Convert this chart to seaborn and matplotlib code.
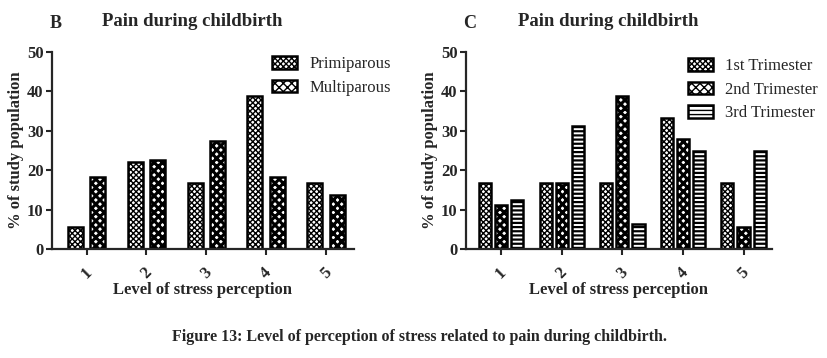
import matplotlib

matplotlib.use("Agg")

import matplotlib.pyplot as plt
import seaborn as sns
import pandas as pd
from matplotlib.patches import Patch

# --- data ---
levels = ["1", "2", "3", "4", "5"]

parity_groups = ["Primiparous", "Multiparous"]
primiparous = [5.6, 22.2, 16.7, 38.9, 16.7]
multiparous = [18.2, 22.7, 27.3, 18.2, 13.6]

trimester_groups = ["1st Trimester", "2nd Trimester", "3rd Trimester"]
first_trimester = [16.7, 16.7, 16.7, 33.3, 16.7]
second_trimester = [11.1, 16.7, 38.9, 27.8, 5.6]
third_trimester = [12.5, 31.25, 6.25, 25.0, 25.0]

y_ticks = [0, 10, 20, 30, 40, 50]

sns.set_style("ticks")
plt.rcParams["font.family"] = ["Liberation Serif", "DejaVu Serif"]
plt.rcParams["hatch.linewidth"] = 1.0

# hatch pattern + hatch line width per series
fine_check = ("xxxxxx", 1.0)
coarse_check = ("xxxx", 2.2)
stripes = ("----", 1.6)


def _long_frame(groups, series):
    rows = []
    for g, vals in zip(groups, series):
        for lvl, v in zip(levels, vals):
            rows.append({"level": lvl, "pct": v, "group": g})
    return pd.DataFrame(rows)


def _apply_hatch(patch, style):
    patch.set_hatch(style[0])
    if hasattr(patch, "set_hatch_linewidth"):
        patch.set_hatch_linewidth(style[1])


def draw_panel(ax, df, groups, hatches, width, gap, legend_anchor):
    sns.barplot(
        data=df, x="level", y="pct", hue="group",
        order=levels, hue_order=groups,
        palette={g: "white" for g in groups},
        edgecolor="black", linewidth=1.8,
        width=width, gap=gap, errorbar=None, legend=False, ax=ax,
    )
    for cont, h in zip(ax.containers, hatches):
        for bar in cont:
            _apply_hatch(bar, h)

    ax.set_ylim(0, 50)
    ax.set_xlim(-0.58, 4.47)
    ax.set_yticks(y_ticks)
    sns.despine(ax=ax)
    for side in ("left", "bottom"):
        ax.spines[side].set_linewidth(1.6)
    ax.tick_params(axis="both", width=1.5, length=4, labelsize=12, pad=2)
    ax.tick_params(axis="x", pad=7)
    for lab in ax.get_yticklabels():
        lab.set_fontweight("bold")
    for lab in ax.get_xticklabels():
        lab.set_fontweight("bold")
        lab.set_rotation(45)
    ax.set_xlabel("Level of stress perception", fontsize=12,
                  fontweight="bold", labelpad=0)
    ax.set_ylabel("% of study population", fontsize=12, fontweight="bold",
                  labelpad=2)

    handles = []
    for g, h in zip(groups, hatches):
        p = Patch(facecolor="white", edgecolor="black", linewidth=1.8, label=g)
        _apply_hatch(p, h)
        handles.append(p)
    ax.legend(handles=handles, loc="upper left", bbox_to_anchor=legend_anchor,
              frameon=False, fontsize=12, handlelength=1.5, handleheight=0.8,
              labelspacing=0.45, handletextpad=0.7, borderpad=0,
              borderaxespad=0)


fig = plt.figure(figsize=(8.28, 3.58), dpi=100)

ax_b = fig.add_axes([52 / 828, 1 - 249 / 358, 302 / 828, 197 / 358])
draw_panel(ax_b, _long_frame(parity_groups, [primiparous, multiparous]),
           parity_groups, [fine_check, coarse_check], 0.75, 0.33, (0.73, 0.98))

ax_c = fig.add_axes([466 / 828, 1 - 249 / 358, 306 / 828, 197 / 358])
draw_panel(ax_c, _long_frame(trimester_groups,
                             [first_trimester, second_trimester, third_trimester]),
           trimester_groups, [fine_check, coarse_check, stripes],
           0.8, 0.25, (0.725, 0.97))

fig.text(50 / 828, 1 - 24 / 358, "B", fontsize=13, fontweight="bold",
         va="center", ha="left")
fig.text(192 / 828, 1 - 21 / 358, "Pain during childbirth", fontsize=13.5,
         fontweight="bold", va="center", ha="center")
fig.text(463 / 828, 1 - 24 / 358, "C", fontsize=13, fontweight="bold",
         va="center", ha="left")
fig.text(608 / 828, 1 - 21 / 358, "Pain during childbirth", fontsize=13.5,
         fontweight="bold", va="center", ha="center")
fig.text(420 / 828, 1 - 337 / 358,
         "Figure 13: Level of perception of stress related to pain during childbirth.",
         fontsize=11.5, fontweight="bold", va="center", ha="center")

fig.savefig("out.png", dpi=100)
